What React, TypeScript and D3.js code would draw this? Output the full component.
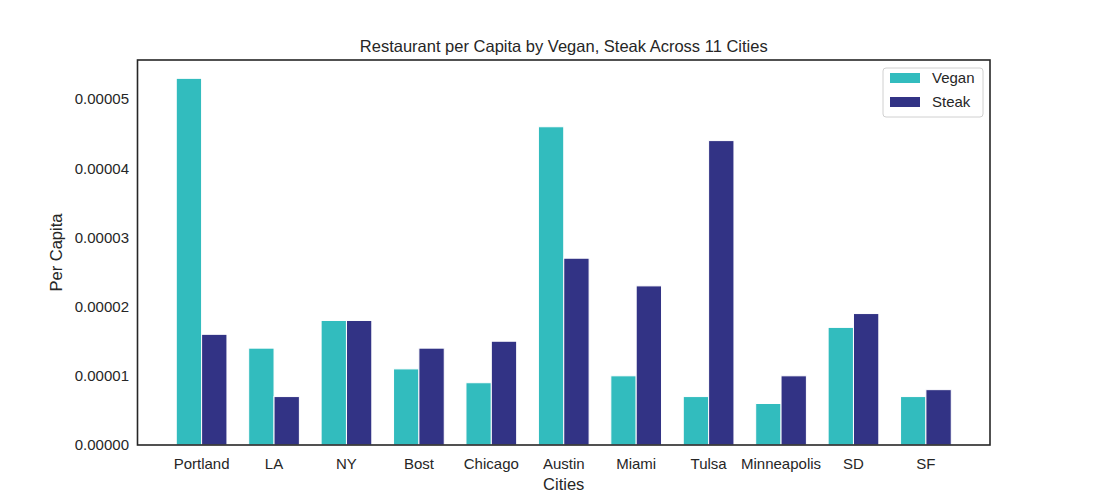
import React from "react";
import * as d3 from "d3";

const cities = ["Portland", "LA", "NY", "Bost", "Chicago", "Austin", "Miami", "Tulsa", "Minneapolis", "SD", "SF"];
const vegan = [5.3e-5, 1.4e-5, 1.8e-5, 1.1e-5, 0.9e-5, 4.6e-5, 1.0e-5, 0.7e-5, 0.6e-5, 1.7e-5, 0.7e-5];
const steak = [1.6e-5, 0.7e-5, 1.8e-5, 1.4e-5, 1.5e-5, 2.7e-5, 2.3e-5, 4.4e-5, 1.0e-5, 1.9e-5, 0.8e-5];
const yTicks = [0, 1e-5, 2e-5, 3e-5, 4e-5, 5e-5];
const seriesNames = ["Vegan", "Steak"];
const seriesColors = ["#32bcbe", "#323385"];

const W = 1100, H = 500;
const L = 137.5, R = 990, T = 60, B = 445;
const barW = 0.35;

export default function App() {
  const x = d3.scaleLinear().domain([-0.885, cities.length - 1 + 0.885]).range([L, R]);
  const y = d3.scaleLinear().domain([0, 5.565e-5]).range([B, T]);
  const font = "'Liberation Sans', Arial, sans-serif";
  const txt = "#262626";
  const series = [vegan, steak];
  return (
    <svg width={W} height={H} style={{ position: "absolute", left: 0, top: 0, background: "#fff" }} fontFamily={font}>
      <rect x={0} y={0} width={W} height={H} fill="#fff" />
      {series.map((vals, s) =>
        vals.map((v, i) => {
          const x0 = s === 0 ? x(i - barW) : x(i);
          const x1 = s === 0 ? x(i) : x(i + barW);
          return (
            <rect key={`${s}-${i}`} x={x0} y={y(v)} width={x1 - x0} height={y(0) - y(v)}
              fill={seriesColors[s]} stroke="#fff" strokeWidth={1} />
          );
        })
      )}
      <rect x={L} y={T} width={R - L} height={B - T} fill="none" stroke={txt} strokeWidth={1.6} />
      {yTicks.map((t) => (
        <text key={t} x={129} y={y(t)} dy="0.35em" textAnchor="end" fontSize={15} fill={txt}>
          {d3.format(".5f")(t)}
        </text>
      ))}
      {cities.map((c, i) => (
        <text key={c} x={x(i)} y={464} dy="0.35em" textAnchor="middle" fontSize={15} fill={txt}>{c}</text>
      ))}
      <text x={(L + R) / 2} y={484} dy="0.35em" textAnchor="middle" fontSize={16.5} fill={txt}>Cities</text>
      <text transform={`translate(56,${(T + B) / 2}) rotate(-90)`} dy="0.35em" textAnchor="middle" fontSize={16.5} fill={txt}>Per Capita</text>
      <text x={(L + R) / 2} y={46} dy="0.35em" textAnchor="middle" fontSize={16.5} fill={txt}>Restaurant per Capita by Vegan, Steak Across 11 Cities</text>
      <g>
        <rect x={883} y={68} width={100} height={49} rx={3} fill="#fff" stroke="#d0d0d0" strokeWidth={1} />
        {seriesNames.map((n, k) => (
          <g key={n}>
            <rect x={890} y={73 + k * 24} width={30} height={10} fill={seriesColors[k]} />
            <text x={932} y={78 + k * 24} dy="0.35em" fontSize={15} fill={txt}>{n}</text>
          </g>
        ))}
      </g>
    </svg>
  );
}
